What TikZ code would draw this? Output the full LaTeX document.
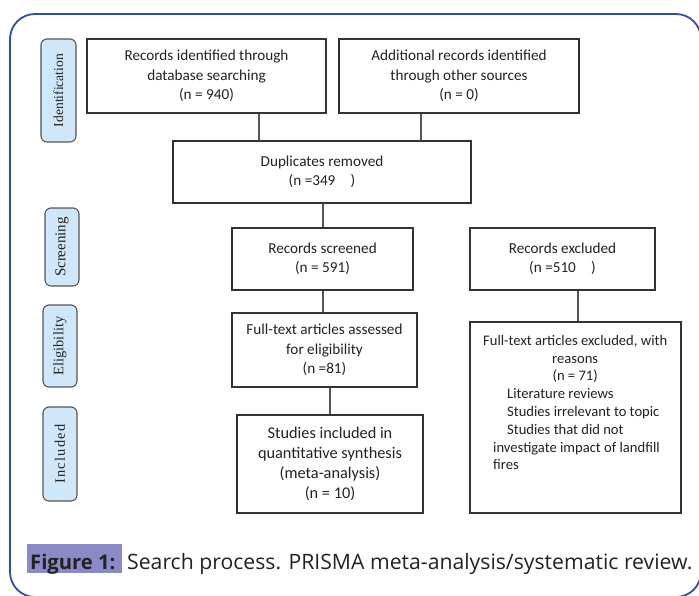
\documentclass[tikz,border=0pt]{standalone}
\usepackage{fontspec}
\setmainfont{Carlito}
\newfontfamily\capfont{Open Sans}
\newfontfamily\serifside{Liberation Serif}
\newfontfamily\serifwide[LetterSpace=9]{Liberation Serif}
\usetikzlibrary{calc}
\definecolor{frameblue}{HTML}{2F4FA0}
\definecolor{sidefill}{HTML}{CFE7F9}
\definecolor{capbg}{HTML}{8B8AC6}
\definecolor{boxline}{HTML}{333333}
\definecolor{conline}{HTML}{555555}
\definecolor{txt}{HTML}{222222}
\begin{document}
\begin{tikzpicture}[x=1pt,y=-1pt,
  box/.style={draw=boxline,line width=1.1pt,fill=white,inner sep=0pt,
    text=txt,align=center,font=\fontsize{15.2}{19.5}\selectfont},
  side/.style={draw=conline,line width=1.1pt,fill=sidefill,rounded corners=6pt,
    rotate=90,inner sep=0pt,text=txt,font=\serifside\fontsize{14.4}{16}\selectfont},
  con/.style={draw=conline,line width=1.1pt},
  captext/.style={inner sep=0pt,font=\capfont\fontsize{21.2}{24}\selectfont,text=txt}]
\useasboundingbox (0,0) rectangle (699,595);
\begin{scope}
\clip (0,0) rectangle (699,595);
\draw[frameblue,line width=1.8pt,rounded corners=25pt] (10,14) rectangle (701,597);
\end{scope}

% side labels
\node[side,minimum width=103pt,minimum height=35pt,font=\serifside\fontsize{13.6}{15}\selectfont] (sid) at (58.5,90.5) {Identification};
\node[side,minimum width=78pt,minimum height=34pt,font=\serifside\fontsize{15}{17}\selectfont] (sscr) at (62,247) {Screening};
\node[side,minimum width=82pt,minimum height=34pt] (selig) at (60,346) {Eligibility};
\node[side,minimum width=94pt,minimum height=34pt,font=\serifwide\fontsize{14.4}{16}\selectfont] (sinc) at (60,454) {Included};

% boxes
\node[box,minimum width=239pt,minimum height=74pt] (b1) at (206.5,76)
  {Records identified through\\database searching\\(n = 940)};
\node[box,minimum width=240pt,minimum height=74pt] (b2) at (459,76)
  {Additional records identified\\through other sources\\(n = 0)};
\node[box,minimum width=298pt,minimum height=62pt] (dup) at (322,172)
  {Duplicates removed\\(n =349\hspace{1em})};
\node[box,minimum width=181pt,minimum height=62pt] (scr) at (322.5,259)
  {Records screened\\(n = 591)};
\node[box,minimum width=185pt,minimum height=62pt] (exc) at (562.5,259)
  {Records excluded\\(n =510\hspace{1em})};
\node[box,minimum width=185pt,minimum height=74pt] (fta) at (324.5,350)
  {Full-text articles assessed\\for eligibility\\(n =81)};
\node[box,minimum width=186pt,minimum height=98pt,font=\fontsize{16.3}{20}\selectfont] (inc) at (330,464)
  {Studies included in\\quantitative synthesis\\(meta-analysis)\\(n = 10)};
\node[box,minimum width=211pt,minimum height=191pt] (fte) at (575.5,417.5) {};
\node[anchor=north west,inner sep=0pt,text=txt,font=\fontsize{14.6}{17.8}\selectfont,align=left] (ftetext) at (493,335)
  {\makebox[164pt][c]{Full-text articles excluded, with}\\
   \makebox[164pt][c]{reasons}\\
   \makebox[164pt][c]{(n = 71)}\\
   \hspace*{14pt}Literature reviews\\
   \hspace*{14pt}Studies irrelevant to topic\\
   \hspace*{14pt}Studies that did not\\
   investigate impact of landfill\\
   fires};

% connectors
\coordinate (x1) at (259,0);
\coordinate (x2) at (421,0);
\coordinate (x3) at (323,0);
\coordinate (x4) at (330,0);
\coordinate (x5) at (578,0);
\draw[con] (b1.south -| x1) -- (dup.north -| x1);
\draw[con] (b2.south -| x2) -- (dup.north -| x2);
\draw[con] (dup.south -| x3) -- (scr.north -| x3);
\draw[con] (scr.south -| x3) -- (fta.north -| x3);
\draw[con] (fta.south -| x4) -- (inc.north -| x4);
\draw[con] (exc.south -| x5) -- (fte.north -| x5);

% caption
\node[fill=capbg,inner sep=0pt,minimum width=95pt,minimum height=29pt,anchor=north west] (hl) at (27,544) {};
\node[captext,anchor=base west,font=\capfont\fontsize{20.2}{24}\selectfont] (capfig) at (30,569) {\textbf{Figure 1:}};
\node[captext,anchor=base west] (cap) at (127,569)
  {Search process. PRISMA meta-analysis/systematic review.};
\end{tikzpicture}
\end{document}
